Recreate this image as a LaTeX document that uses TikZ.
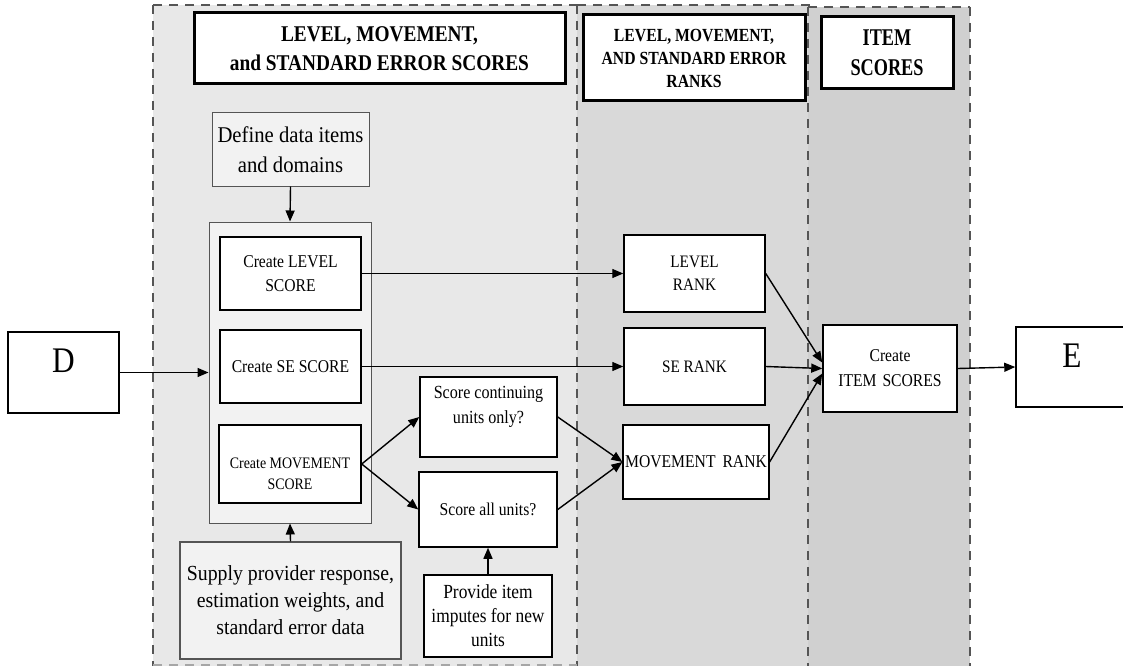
\documentclass[tikz,border=0pt]{standalone}
\usepackage{fontspec}
\setmainfont{Liberation Serif}
\newfontfamily\fA{Liberation Serif}[FakeStretch=0.92]
\newfontfamily\fB{Liberation Serif}[FakeStretch=0.87]
\newfontfamily\fG{Liberation Serif}[FakeStretch=0.86]
\newfontfamily\fH{Liberation Serif}[FakeStretch=0.85]
\newfontfamily\fI{Liberation Serif}[FakeStretch=0.76]
\usetikzlibrary{arrows.meta}
\definecolor{pA}{HTML}{E8E8E8}
\definecolor{pB}{HTML}{D9D9D9}
\definecolor{pC}{HTML}{D0D0D0}
\definecolor{boxgray}{HTML}{F2F2F2}
\definecolor{edgegray}{HTML}{555555}
\tikzset{
  box/.style={draw, line width=1.5pt, fill=white, inner sep=0pt, align=center},
  hdr/.style={draw, line width=3pt, fill=white, inner sep=0pt, align=center},
  gbox/.style={draw=edgegray, line width=1.3pt, fill=boxgray, inner sep=0pt, align=center},
  txt/.style={inner sep=0pt, align=center},
  arr/.style={-{Triangle[length=11pt,width=9pt]}, line width=1.4pt},
  dline/.style={draw=edgegray, line width=1.2pt, dash pattern=on 9pt off 7pt},
  lline/.style={draw=gray!70, line width=1.5pt, dash pattern=on 9pt off 7pt},
}
\begin{document}
\begin{tikzpicture}[x=1pt,y=-1pt]
\useasboundingbox (0,0) rectangle (1123,666);
% panels
\fill[pA] (153,5) rectangle (577,666);
\fill[pB] (577,5) rectangle (808,666);
\fill[pC] (808,7) rectangle (970,666);
\draw[dline] (153,5) -- (577,5);
\draw[dline] (577,5) -- (813,5);
\draw[dline] (808,7) -- (970,7);
\draw[dline] (153,5) -- (153,666);
\draw[dline] (577,5) -- (577,666);
\draw[dline] (808,7) -- (808,666);
\draw[dline] (970,7) -- (970,666);
\draw[lline] (153,665) -- (577,665);

% headers
\node[hdr, minimum width=371pt, minimum height=71pt, font=\fG\bfseries\fontsize{22.5}{29}\selectfont] (h1) at (379.5,48.5) {LEVEL, MOVEMENT,\\and STANDARD ERROR SCORES};
\node[hdr, minimum width=222pt, minimum height=86pt, font=\fH\bfseries\fontsize{18.5}{23}\selectfont] (h2) at (694,58) {LEVEL, MOVEMENT,\\AND STANDARD ERROR\\RANKS};
\node[hdr, minimum width=132pt, minimum height=72pt, font=\fI\bfseries\fontsize{24}{30}\selectfont] (h3) at (887,53) {ITEM\\SCORES};

% outside boxes
\node[box, minimum width=111pt, minimum height=81pt] (D) at (63.5,372.5) {};
\node[txt, font=\fB\fontsize{36}{40}\selectfont] (Dt) at (63.5,361) {D};
\node[box, minimum width=112pt, minimum height=80pt] (E) at (1072,367) {};
\node[txt, font=\fB\fontsize{36}{40}\selectfont] (Et) at (1072,356) {E};

% panel 1
\node[gbox, line width=1pt, minimum width=157pt, minimum height=73pt, font=\fA\fontsize{22.5}{30}\selectfont] (def) at (290.5,149.5) {Define data items\\and domains};
\node[gbox, line width=1pt, minimum width=162pt, minimum height=301pt] (cont) at (290,372.5) {};
\node[box, minimum width=141pt, minimum height=73pt, font=\fB\fontsize{18}{24}\selectfont] (ls) at (290.5,273.5) {Create LEVEL\\SCORE};
\node[box, minimum width=141pt, minimum height=73pt, font=\fB\fontsize{18}{24}\selectfont] (ss) at (290.5,366.5) {Create SE SCORE};
\node[box, minimum width=142pt, minimum height=78pt] (ms) at (290,464) {};
\node[txt, font=\fB\fontsize{16}{21}\selectfont] (mst) at (290,474) {Create MOVEMENT\\SCORE};
\node[gbox, minimum width=221pt, minimum height=117pt, font=\fA\fontsize{21.5}{27}\selectfont] (sup) at (290.5,600.5) {Supply provider response,\\estimation weights, and\\standard error data};
\node[box, minimum width=137pt, minimum height=80pt] (sc) at (488.5,417) {};
\node[txt, font=\fB\fontsize{18.5}{25}\selectfont] (sct) at (488.5,407) {Score continuing\\units only?};
\node[box, minimum width=138pt, minimum height=75pt, font=\fB\fontsize{18}{24}\selectfont] (sa) at (488,509.5) {Score all units?};
\node[box, line width=1.2pt, minimum width=128pt, minimum height=82pt, font=\fB\fontsize{20}{24}\selectfont] (pr) at (488,616) {Provide item\\imputes for new\\units};

% panel 2
\node[box, minimum width=141pt, minimum height=77pt, font=\fB\fontsize{17.5}{23}\selectfont] (lr) at (694.5,273.5) {LEVEL\\RANK};
\node[box, minimum width=141pt, minimum height=77pt, font=\fB\fontsize{17.5}{23}\selectfont] (sr) at (694.5,366.5) {SE RANK};
\node[box, line width=1.2pt, minimum width=146pt, minimum height=74pt, font=\fB\fontsize{18}{24}\selectfont] (mr) at (696,462) {MOVEMENT\hspace{3pt} RANK};

% panel 3
\node[box, minimum width=134pt, minimum height=87pt, font=\fB\fontsize{18}{25}\selectfont] (it) at (890,368.5) {Create\\ITEM\hspace{2pt} SCORES};

% connectors
\draw[arr] (D.east) -- (cont.west);
\draw[arr] (def.south) -- (cont.north);
\draw[arr] (sup.north) -- (cont.south);
\draw[arr] (ls.east) -- (lr.west);
\draw[arr] (ss.east) -- (sr.west);
\draw[arr] (ms.east) -- (sc.west);
\draw[arr] (ms.east) -- (sa.west);
\draw[arr] (sc.east) -- (mr.west);
\draw[arr] (sa.east) -- (mr.west);
\draw[arr] (pr.north) -- (sa.south);
\draw[arr] (lr.east) -- ([yshift=6pt]it.west);
\draw[arr] (sr.east) -- (it.west);
\draw[arr] (mr.east) -- ([yshift=-5pt]it.west);
\draw[arr] (it.east) -- (E.west);
\end{tikzpicture}
\end{document}
